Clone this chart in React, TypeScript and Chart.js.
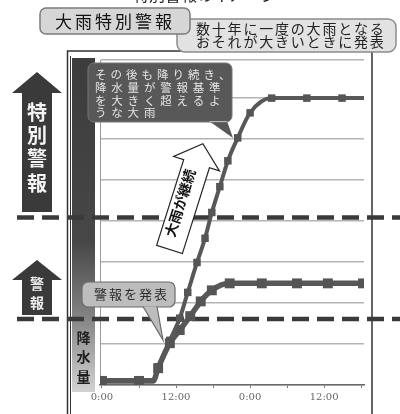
import React, { useEffect, useRef } from 'react';
import { Chart, registerables } from 'chart.js';

Chart.register(...registerables);

// ---- data ----
const specialHours = [0, 6, 8.3, 9.1, 11.0, 12.6, 13.9, 15.4, 16.7, 17.8, 19.1, 20.4, 22.0, 24.0, 27.5, 33.2, 38.9, 42.5];
const specialValues = [0.12, 0.12, 0.12, 0.44, 1.09, 1.63, 2.26, 2.99, 3.58, 4.21, 4.84, 5.47, 6.03, 6.64, 7.0, 7.0, 7.0, 7.0];
const specialMarkers = [1, 1, 0, 1, 1, 1, 1, 1, 1, 1, 1, 1, 1, 1, 1, 1, 1, 0];

const warningHours = [0, 6, 8.3, 9.1, 11.0, 12.6, 14.3, 16.0, 17.8, 20.7, 25.9, 31.6, 36.6, 42.3];
const warningValues = [0.1, 0.1, 0.1, 0.41, 1.02, 1.34, 1.68, 2.04, 2.31, 2.48, 2.48, 2.48, 2.48, 2.48];
const warningMarkers = [1, 1, 0, 1, 1, 1, 1, 1, 1, 1, 1, 1, 1, 1];

const tickHours = [0, 6, 12, 18, 24, 30, 36, 42];
const tickLabels = ['0:00', '', '12:00', '', '0:00', '', '12:00', ''];
const gridValues = [0, 1, 2, 3, 4, 5, 6, 7, 7.93];

const specialLevel = 4.09;
const warningLevel = 1.61;

const JP = '"Noto Sans CJK JP", "Noto Sans", sans-serif';

function chars(ctx: CanvasRenderingContext2D, text: string, x: number, y: number, adv: number) {
  let cx = x;
  for (const ch of Array.from(text)) {
    ctx.fillText(ch, cx, y);
    cx += adv;
  }
}

function vchars(ctx: CanvasRenderingContext2D, text: string, x: number, ys: number[]) {
  Array.from(text).forEach((ch, i) => ctx.fillText(ch, x, ys[i]));
}

const deco = {
  id: 'deco',
  beforeDraw(chart: any) {
    const ctx: CanvasRenderingContext2D = chart.ctx;
    ctx.save();
    ctx.fillStyle = '#fff';
    ctx.fillRect(0, 0, chart.width, chart.height);
    // precipitation bar
    const g = ctx.createLinearGradient(0, 58, 0, 392);
    g.addColorStop(0, '#3c3c3c');
    g.addColorStop(0.55, '#474747');
    g.addColorStop(0.78, '#858585');
    g.addColorStop(1, '#d2d2d2');
    ctx.fillStyle = g;
    ctx.fillRect(72, 58, 23, 334);
    // frame
    ctx.strokeStyle = '#333';
    ctx.lineWidth = 1.5;
    ctx.beginPath();
    ctx.moveTo(67.5, 414);
    ctx.lineTo(67.5, 51);
    ctx.lineTo(372, 51);
    ctx.lineTo(372, 414);
    ctx.stroke();
    ctx.lineWidth = 1;
    ctx.beginPath();
    ctx.moveTo(70.5, 56);
    ctx.lineTo(70.5, 414);
    ctx.stroke();
    ctx.restore();
  },
  beforeDatasetsDraw(chart: any) {
    const ctx: CanvasRenderingContext2D = chart.ctx;
    const ys = chart.scales.y;
    ctx.save();
    ctx.strokeStyle = '#3a3a3a';
    ctx.lineWidth = 4.5;
    ctx.setLineDash([17, 8]);
    [specialLevel, warningLevel].forEach((lv) => {
      const y = ys.getPixelForValue(lv);
      ctx.beginPath();
      ctx.moveTo(17, y);
      ctx.lineTo(400, y);
      ctx.stroke();
    });
    ctx.restore();
  },
  afterDraw(chart: any) {
    const ctx: CanvasRenderingContext2D = chart.ctx;
    ctx.save();

    // partially visible title at very top
    ctx.fillStyle = '#222';
    ctx.font = `16px ${JP}`;
    ctx.textBaseline = 'middle';
    ctx.textAlign = 'left';
    chars(ctx, '特別警報のイメージ', 133, -5, 16);

    // box 2 (description)
    ctx.beginPath();
    ctx.roundRect(177, 19, 219, 33, 8);
    ctx.fillStyle = '#e2e2e2';
    ctx.fill();
    ctx.strokeStyle = '#8c8c8c';
    ctx.lineWidth = 1.5;
    ctx.stroke();
    ctx.fillStyle = '#222';
    ctx.font = `14px ${JP}`;
    ctx.textBaseline = 'middle';
    chars(ctx, '数十年に一度の大雨となる', 196, 29, 15.8);
    chars(ctx, 'おそれが大きいときに発表', 196, 42, 15.8);

    // box 1 (title label)
    ctx.beginPath();
    ctx.roundRect(40, 8, 150, 26, 6);
    ctx.fillStyle = '#d6d6d6';
    ctx.fill();
    ctx.strokeStyle = '#7c7c7c';
    ctx.stroke();
    ctx.fillStyle = '#111';
    ctx.font = `17px ${JP}`;
    chars(ctx, '大雨特別警報', 55, 21.5, 20);

    // left big arrow 特別警報
    ctx.fillStyle = '#3a3a3a';
    ctx.beginPath();
    ctx.moveTo(37, 72);
    ctx.lineTo(62, 93);
    ctx.lineTo(52, 93);
    ctx.lineTo(52, 212);
    ctx.lineTo(22, 212);
    ctx.lineTo(22, 93);
    ctx.lineTo(12, 93);
    ctx.closePath();
    ctx.fill();
    ctx.fillStyle = '#f4f4f4';
    ctx.font = `bold 20px ${JP}`;
    ctx.textAlign = 'center';
    vchars(ctx, '特別警報', 37, [112, 135, 158, 183]);

    // small arrow 警報
    ctx.fillStyle = '#3a3a3a';
    ctx.beginPath();
    ctx.moveTo(37, 260);
    ctx.lineTo(62, 280);
    ctx.lineTo(52, 280);
    ctx.lineTo(52, 315);
    ctx.lineTo(22, 315);
    ctx.lineTo(22, 280);
    ctx.lineTo(12, 280);
    ctx.closePath();
    ctx.fill();
    ctx.fillStyle = '#f0f0f0';
    ctx.font = `bold 14px ${JP}`;
    vchars(ctx, '警報', 37, [284, 303]);

    // 降水量 label
    ctx.fillStyle = '#1e1e1e';
    ctx.font = `bold 14px ${JP}`;
    vchars(ctx, '降水量', 83.5, [338, 357, 377]);

    // dark callout
    ctx.beginPath();
    ctx.roundRect(88, 63, 144, 59, 6);
    ctx.moveTo(209, 121);
    ctx.lineTo(233, 138);
    ctx.lineTo(227, 121);
    ctx.closePath();
    ctx.fillStyle = '#585858';
    ctx.fill();
    ctx.strokeStyle = '#777';
    ctx.lineWidth = 1;
    ctx.beginPath();
    ctx.roundRect(88, 63, 144, 59, 6);
    ctx.stroke();
    ctx.fillStyle = '#e4e4e4';
    ctx.font = `11.5px ${JP}`;
    ctx.textAlign = 'left';
    chars(ctx, 'その後も降り続き、', 95, 75, 15.5);
    chars(ctx, '降水量が警報基準', 95, 88, 16.3);
    chars(ctx, 'を大きく超えるよ', 95, 100.5, 16.3);
    chars(ctx, 'うな大雨', 95, 113, 16.3);

    // light callout 警報を発表
    ctx.beginPath();
    ctx.roundRect(82, 282, 93, 25, 6);
    ctx.fillStyle = '#bdbdbd';
    ctx.fill();
    ctx.strokeStyle = '#6a6a6a';
    ctx.lineWidth = 1.2;
    ctx.stroke();
    ctx.beginPath();
    ctx.moveTo(143, 306.5);
    ctx.lineTo(163, 340);
    ctx.lineTo(157, 306.5);
    ctx.fillStyle = '#bdbdbd';
    ctx.fill();
    ctx.stroke();
    ctx.fillStyle = '#2c2c2c';
    ctx.font = `13px ${JP}`;
    chars(ctx, '警報を発表', 94, 294, 15);

    // white arrow 大雨が継続
    const bx = 169.5, by = 249.5;
    const ang = (17.5 * Math.PI) / 180;
    ctx.save();
    ctx.translate(bx, by);
    ctx.rotate(ang);
    ctx.beginPath();
    ctx.moveTo(-13.5, 0);
    ctx.lineTo(-13.5, -90);
    ctx.lineTo(-24, -90);
    ctx.lineTo(0, -111);
    ctx.lineTo(24, -90);
    ctx.lineTo(13.5, -90);
    ctx.lineTo(13.5, 0);
    ctx.closePath();
    ctx.fillStyle = '#fff';
    ctx.fill();
    ctx.strokeStyle = '#222';
    ctx.lineWidth = 1.2;
    ctx.stroke();
    ctx.restore();

    ctx.save();
    ctx.translate(180, 203);
    ctx.rotate(-Math.PI / 2 + ang);
    ctx.fillStyle = '#111';
    ctx.font = `bold 14px ${JP}`;
    ctx.textAlign = 'center';
    ctx.textBaseline = 'middle';
    const txt = Array.from('大雨が継続');
    txt.forEach((ch, i) => ctx.fillText(ch, -28 + i * 14, 0));
    ctx.restore();

    ctx.restore();
  },
};

export default function App() {
  const ref = useRef<HTMLCanvasElement | null>(null);
  useEffect(() => {
    if (!ref.current) return;
    const ds = (hours: number[], vals: number[], marks: number[], r: number, w: number) => ({
      data: hours.map((h, i) => ({ x: h, y: vals[i] })),
      borderColor: '#585858',
      backgroundColor: '#555',
      borderWidth: w,
      pointStyle: 'rect',
      pointRadius: marks.map((m) => (m ? r : 0)),
      pointBorderWidth: 0,
      pointBackgroundColor: '#555',
      cubicInterpolationMode: 'monotone',
      fill: false,
    });
    const chart = new Chart(ref.current, {
      type: 'line',
      data: {
        datasets: [
          ds(warningHours, warningValues, warningMarkers, 7, 5.5),
          ds(specialHours, specialValues, specialMarkers, 5.3, 4),
        ] as any,
      },
      options: {
        responsive: false,
        animation: false,
        layout: { padding: { left: 100, right: 36, top: 60, bottom: 0 } },
        plugins: { legend: { display: false }, tooltip: { enabled: false } },
        scales: {
          x: {
            type: 'linear',
            min: -0.32,
            max: 42.46,
            afterFit: (s: any) => { s.height = 29; },
            afterBuildTicks: (s: any) => { s.ticks = tickHours.map((v) => ({ value: v })); },
            ticks: {
              autoSkip: false,
              maxRotation: 0,
              padding: 3,
              color: '#666',
              font: { family: '"DejaVu Serif", serif', size: 10 },
              callback: (_v: any, i: number) => tickLabels[i],
            },
            grid: { drawOnChartArea: false, drawTicks: true, tickLength: 3, color: '#777' },
            border: { display: true, color: '#6a6a6a', width: 1.5 },
          },
          y: {
            min: 0,
            max: 7.93,
            afterFit: (s: any) => { s.width = 0; },
            afterBuildTicks: (s: any) => { s.ticks = gridValues.map((v) => ({ value: v })); },
            ticks: { display: false },
            grid: { color: '#b4b4b4', lineWidth: 1.5, drawTicks: false },
            border: { display: true, color: '#999', width: 1 },
          },
        },
      } as any,
      plugins: [deco as any],
    });
    return () => chart.destroy();
  }, []);
  return (
    <div style={{ position: 'fixed', left: 0, top: 0, width: 400, height: 414, background: '#fff' }}>
      <canvas ref={ref} width={400} height={414} style={{ display: 'block', width: 400, height: 414 }} />
    </div>
  );
}
